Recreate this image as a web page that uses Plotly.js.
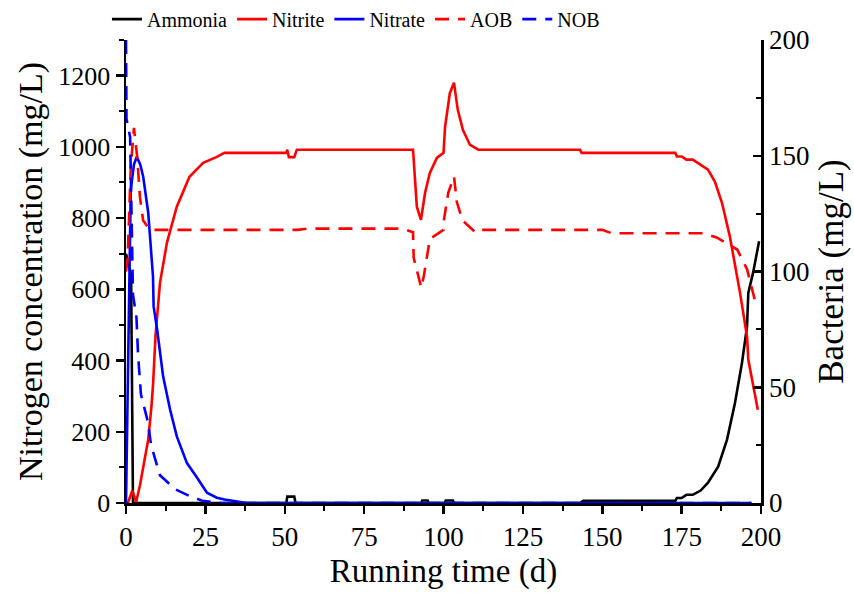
<!DOCTYPE html>
<html>
<head>
<meta charset="utf-8">
<script src="https://cdn.plot.ly/plotly-3.0.1.min.js"></script>
<style>html,body{margin:0;padding:0;background:#fff;}#chart{width:854px;height:594px;}</style>
</head>
<body>
<div id="chart"></div>
<script>
// Ammonia (left axis, mg/L)
const ammoniaT = [0, 1.6, 2.2, 50.5, 50.8, 53.0, 53.4, 93.0, 93.3, 95.0, 95.3, 100.4, 100.7, 103.0, 103.3, 143, 144, 173, 173.5, 175, 176.5, 178.5, 181, 183.3, 186.5, 189.3, 191.8, 194, 195.6, 196, 197.5, 199.4];
const ammoniaV = [700, 640, 0, 0, 18, 18, 0, 0, 7, 7, 0, 0, 7, 7, 0, 0, 6, 6, 14, 14, 23, 23, 35, 57, 102, 178, 281, 393, 495, 590, 646, 735];
// Nitrite (left axis)
const nitriteT = [0, 0.6, 2.0, 3.2, 4.4, 5.9, 7.0, 8.0, 8.5, 9.3, 10.7, 12.9, 16, 20, 24.3, 28.6, 31, 50.5, 50.8, 51.3, 53.0, 53.8, 90.4, 91.6, 92.9, 94.2, 95.7, 97.9, 100, 100.5, 102, 103.3, 104.5, 106.1, 108.3, 110, 111, 143, 143.5, 173, 173.5, 175, 176.5, 178.5, 181, 183.3, 185.5, 187.7, 190.2, 193.4, 195.6, 196, 199];
const nitriteV = [0, 0, 35, 3, 50, 125, 178, 270, 330, 470, 618, 731, 832, 916, 955, 972, 983, 983, 992, 971, 971, 992, 992, 832, 795, 871, 927, 969, 983, 1057, 1151, 1180, 1104, 1048, 1006, 997, 992, 992, 983, 983, 973, 973, 964, 964, 950, 936, 902, 843, 748, 590, 467, 402, 262];
// Nitrate (left axis)
const nitrateT = [0, 0.5, 1, 1.5, 2.5, 3.4, 4.5, 5.4, 7, 8.5, 8.7, 9.8, 11.7, 13.9, 16, 19.2, 22.4, 25.5, 28.6, 31, 35, 38, 197];
const nitrateV = [0, 300, 700, 880, 950, 972, 950, 917, 815, 636, 552, 487, 355, 262, 187, 112, 71, 29, 15, 10, 4, 0, 0];
// AOB (right axis, mg/L)
const aobT = [0, 0.5, 1, 1.5, 2.5, 3.5, 4.4, 5.4, 7.5, 54, 57, 87, 90.4, 90.6, 93, 93.8, 95.7, 100, 100.1, 101.5, 103.3, 104.2, 106, 110, 111, 150, 153, 182, 186, 192.5, 195.6, 198];
const aobV = [100, 105, 125, 145, 162, 150, 132, 122, 118, 118, 118.5, 118.5, 117, 106, 93, 98, 114, 118, 122, 134, 141, 130, 122, 117, 118, 118, 116.5, 116.5, 114.7, 109.5, 101, 88];
// NOB (right axis)
const nobT = [0, 0.15, 1.3, 1.6, 2.2, 3.3, 3.8, 4.7, 6.9, 7.9, 10.7, 15.4, 20, 24, 30, 197];
const nobV = [200, 166, 158, 130, 90, 80, 64, 47, 35, 25, 12, 6, 3, 1, 0, 0];

const FONT = "Liberation Serif";
const lw = 2.6;
const traces = [
  {x: ammoniaT, y: ammoniaV, name: "Ammonia", mode: "lines", line: {color: "#000000", width: lw}},
  {x: nitriteT, y: nitriteV, name: "Nitrite", mode: "lines", line: {color: "#ff0000", width: lw}},
  {x: nitrateT, y: nitrateV, name: "Nitrate", mode: "lines", line: {color: "#0000ff", width: lw}},
  {x: aobT, y: aobV, name: "AOB", mode: "lines", yaxis: "y2", line: {color: "#ff0000", width: lw, dash: "14px,9px"}},
  {x: nobT, y: nobV, name: "NOB", mode: "lines", yaxis: "y2", line: {color: "#0000ff", width: lw, dash: "14px,9px"}}
];

const layout = {
  width: 854, height: 594,
  margin: {l: 126, r: 93, t: 40, b: 91, autoexpand: false},
  paper_bgcolor: "#fff", plot_bgcolor: "#fff",
  font: {family: FONT, color: "#000", size: 27},
  showlegend: true,
  legend: {orientation: "h", x: -0.03, xanchor: "left", y: 1.045, yanchor: "middle",
           font: {family: FONT, size: 20, color: "#000"}, bgcolor: "rgba(0,0,0,0)", itemwidth: 30, tracegroupgap: 0},
  xaxis: {
    range: [0, 200], tick0: 0, dtick: 25, showgrid: false, zeroline: false,
    showline: true, linecolor: "#000", linewidth: 2.5,
    ticks: "outside", ticklen: 8, tickwidth: 2.5, tickcolor: "#000",
    minor: {dtick: 12.5, ticks: "outside", ticklen: 5, tickwidth: 2, tickcolor: "#000"},
    tickfont: {family: FONT, size: 27},
    title: {text: "Running time (d)", font: {family: FONT, size: 33}, standoff: 8}
  },
  yaxis: {
    range: [0, 1300], tick0: 0, dtick: 200, showgrid: false, zeroline: false,
    showline: true, linecolor: "#000", linewidth: 2.5,
    ticks: "outside", ticklen: 8, tickwidth: 2.5, tickcolor: "#000",
    minor: {dtick: 100, ticks: "outside", ticklen: 5, tickwidth: 2, tickcolor: "#000"},
    tickfont: {family: FONT, size: 26},
    title: {text: "Nitrogen concentration (mg/L)", font: {family: FONT, size: 34}, standoff: 6}
  },
  yaxis2: {
    overlaying: "y", side: "right", anchor: "x",
    range: [0, 200], tick0: 0, dtick: 50, showgrid: false, zeroline: false,
    showline: true, linecolor: "#000", linewidth: 2.5,
    ticks: "inside", ticklen: 8, tickwidth: 2.5, tickcolor: "#000",
    minor: {dtick: 25, ticks: "inside", ticklen: 5, tickwidth: 2, tickcolor: "#000"},
    tickfont: {family: FONT, size: 27},
    title: {text: "Bacteria (mg/L)", font: {family: FONT, size: 35}, standoff: 10}
  }
};

Plotly.newPlot("chart", traces, layout, {displayModeBar: false, staticPlot: true});
</script>
</body>
</html>
